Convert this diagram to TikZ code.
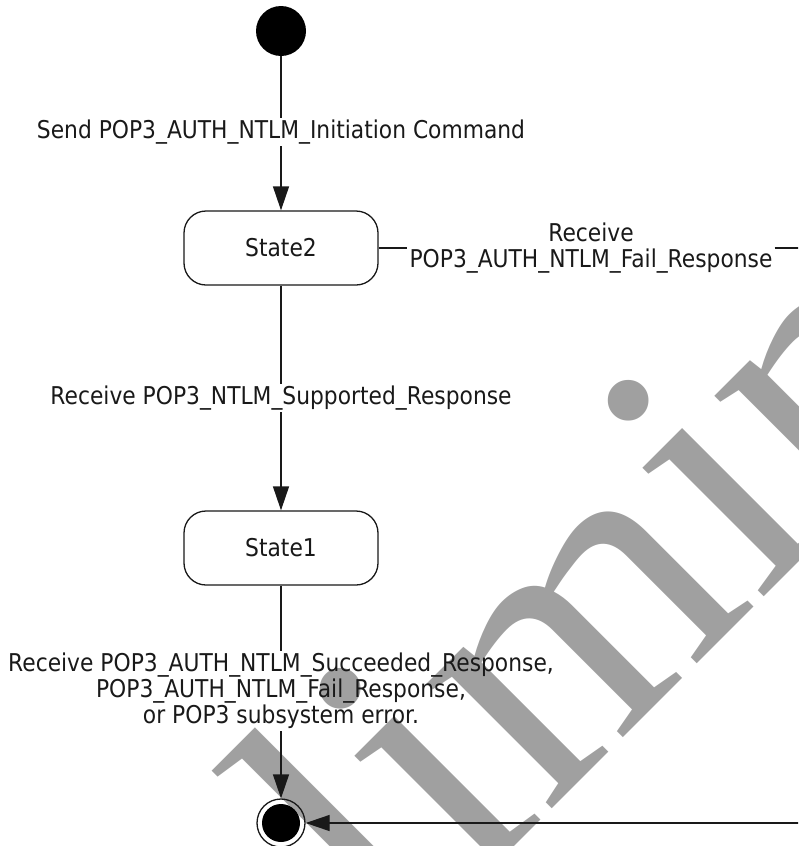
\documentclass[tikz,border=0pt]{standalone}
\usepackage{fontspec}
\setmainfont{DejaVu Sans}[FakeStretch=0.89]
\newfontfamily\wmfont{Liberation Serif}
\usetikzlibrary{arrows.meta}
\definecolor{wmgray}{RGB}{160,160,160}
\definecolor{ink}{RGB}{25,25,25}
\begin{document}
\begin{tikzpicture}[x=1pt,y=-1pt,
  stbox/.style={draw=ink, rounded corners=22pt, minimum width=194pt, minimum height=74pt,
    line width=1.3pt, inner sep=0pt, font=\fontsize{24.5}{26}\selectfont, text=ink},
  lbl/.style={inner sep=2pt, align=center, font=\fontsize{24.5}{26}\selectfont, text=ink},
  conn/.style={draw=ink, line width=1.3pt},
  arr/.style={conn, -{Triangle[length=24pt,width=16pt]}}]
\useasboundingbox (0,0) rectangle (798,846);
\clip (0,0) rectangle (798,846);
% watermark
\node[rotate=45, anchor=base west, inner sep=0pt, text=wmgray,
  font=\wmfont\fontsize{385}{400}\selectfont] (wm) at (32,1329) {Preliminary};
% states
\node[circle, fill=black, minimum size=50pt, inner sep=0pt] (init) at (281,31) {};
\node[stbox] (s2) at (281,248) {State2};
\node[stbox] (s1) at (281,548) {State1};
\node[circle, draw=ink, line width=1.3pt, minimum size=48pt, inner sep=0pt] (fin) at (281,823) {};
\node[circle, fill=black, minimum size=38pt, inner sep=0pt] (fincore) at (fin) {};
% labels
\node[lbl] (lsend) at (281,132) {Send POP3\_AUTH\_NTLM\_Initiation Command};
\node[lbl] (lsup) at (281,398) {Receive POP3\_NTLM\_Supported\_Response};
\node[lbl] (lend) at (281,691) {Receive POP3\_AUTH\_NTLM\_Succeeded\_Response,\\POP3\_AUTH\_NTLM\_Fail\_Response,\\or POP3 subsystem error.};
\node[lbl] (lfail) at (591,248) {Receive\\POP3\_AUTH\_NTLM\_Fail\_Response};
\coordinate (r1) at (830,248);
\coordinate (r2) at (830,823);
% connectors
\draw[conn] (init) -- (lsend);
\draw[arr] (lsend) -- (s2);
\draw[conn] (s2) -- (lsup);
\draw[arr] (lsup) -- (s1);
\draw[conn] (s1) -- (lend);
\draw[arr] (lend) -- (fin);
\draw[conn] (s2) -- (lfail);
\draw[arr] (lfail) -- (r1) -- (r2) -- (fin);
\end{tikzpicture}
\end{document}
